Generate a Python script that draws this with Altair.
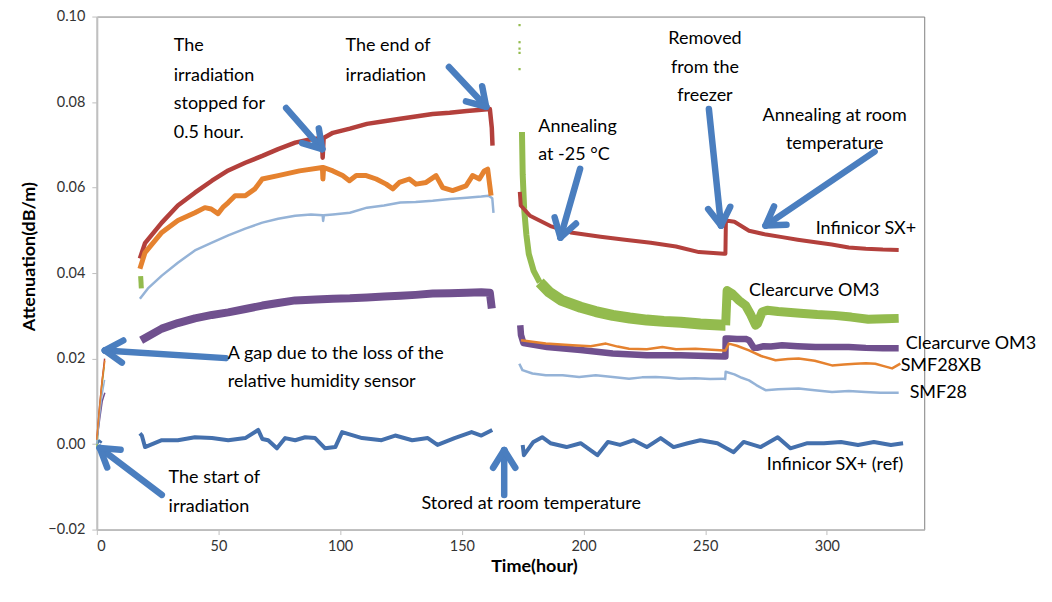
import math
import altair as alt
import pandas as pd

# ---------------- data ----------------
# Initial part of the irradiation (0 - 3 h), before the humidity-sensor gap
RED_INIT_X = [0, 1, 2, 3.2]
RED_INIT_Y = [0.001, 0.008, 0.014, 0.020]
ORG_INIT_X = [0, 1.2, 2.2, 3.3]
ORG_INIT_Y = [0.001, 0.009, 0.015, 0.0195]
GRN_INIT_X = [0, 1, 2, 3.0]
GRN_INIT_Y = [-0.001, 0.007, 0.013, 0.018]
LBL_INIT_X = [0, 1, 2, 3.2]
LBL_INIT_Y = [0.0, 0.006, 0.011, 0.015]
PUR_INIT_X = [0.3, 1.2, 2.2, 3.3]
PUR_INIT_Y = [0.002, 0.006, 0.010, 0.012]
BLU_INIT_X = [0, 1, 2]
BLU_INIT_Y = [0.0, 0.0008, 0.0003]

# Irradiation (17 - 163 h)
RED_IRR_X = [17.7, 19.8, 26.7, 33.3, 40.3, 47.3, 54, 61, 68, 74.5, 81.5, 87, 92.5, 92.8, 93.2, 97, 104, 111, 118, 124.7, 131, 138, 145, 152, 158, 161.5, 162.3, 162.6]
RED_IRR_Y = [0.0434, 0.047, 0.0518, 0.0558, 0.0588, 0.0616, 0.064, 0.0658, 0.0674, 0.069, 0.0705, 0.0712, 0.0716, 0.0670, 0.0716, 0.0728, 0.0738, 0.0749, 0.0755, 0.0761, 0.0766, 0.0772, 0.0775, 0.0779, 0.0782, 0.0784, 0.074, 0.0698]
ORG_IRR_X = [17.7, 19.8, 26.7, 33.3, 40.3, 44.4, 47, 49.8, 52, 54, 56.8, 61, 65, 68, 74.5, 83.3, 92.7, 92.9, 93.2, 97, 101, 103.8, 106.6, 110.7, 114.8, 118.9, 121.6, 124.3, 128.4, 131.2, 135.3, 139.4, 142.1, 146.2, 151.7, 154.4, 157.2, 159.2, 160.6, 162]
ORG_IRR_Y = [0.041, 0.0448, 0.0495, 0.0523, 0.0541, 0.0553, 0.055, 0.0539, 0.0555, 0.0565, 0.0581, 0.0581, 0.0597, 0.062, 0.0628, 0.0639, 0.0647, 0.062, 0.0647, 0.0639, 0.0628, 0.0616, 0.0628, 0.0628, 0.062, 0.0608, 0.0597, 0.0612, 0.062, 0.0608, 0.0612, 0.0628, 0.06, 0.0593, 0.0604, 0.0628, 0.062, 0.0639, 0.0643, 0.0581]
LBL_IRR_X = [17.7, 21, 26.7, 33.3, 40.3, 47.3, 54, 61, 68, 74.5, 81.5, 88, 92.8, 93, 93.3, 97, 104, 111, 118, 124.7, 131, 138, 145, 152, 158, 161, 162.5, 163]
LBL_IRR_Y = [0.034, 0.0364, 0.0394, 0.0424, 0.0453, 0.0471, 0.0488, 0.0504, 0.0518, 0.0527, 0.0534, 0.0537, 0.0535, 0.0522, 0.0535, 0.0537, 0.0541, 0.0553, 0.0558, 0.0565, 0.0566, 0.0569, 0.0573, 0.0576, 0.0579, 0.0581, 0.0575, 0.0541]
PUR_IRR_X = [18.2, 26.7, 33.3, 40.3, 47.3, 54, 61, 68, 74.5, 81.5, 90, 97, 104, 111, 118, 124.7, 131, 138, 145, 152, 158, 161.5, 162.3]
PUR_IRR_Y = [0.0243, 0.027, 0.0283, 0.0294, 0.0302, 0.0308, 0.0316, 0.0324, 0.033, 0.0336, 0.0338, 0.034, 0.0341, 0.0343, 0.0345, 0.0347, 0.0349, 0.0352, 0.0353, 0.0354, 0.0355, 0.0354, 0.0317]
GRN_IRR_X = [18.0, 18.3]
GRN_IRR_Y = [0.0393, 0.0364]
BLU_IRR_X = [17.7, 18.5, 19.8, 26.7, 33.3, 40.3, 47.3, 54, 61, 66.3, 68, 70.4, 74, 77.4, 81.5, 85.6, 89.7, 93.8, 98, 100.8, 109, 117, 122.6, 129.6, 136, 140, 147, 154, 158, 162.5]
BLU_IRR_Y = [0.0025, 0.002, -0.0007, 0.0009, 0.0009, 0.0016, 0.0014, 0.0009, 0.0014, 0.0033, 0.0012, 0.0009, -0.001, 0.0014, 0.0009, 0.0016, 0.0014, -0.001, -0.0007, 0.0028, 0.0014, 0.0009, 0.002, 0.0009, 0.0014, -0.0002, 0.0014, 0.0028, 0.002, 0.0033]

# Annealing at -25 C (174 - 258 h) and at room temperature (258 - 331 h)
RED_ANN_X = [173.8, 174.2, 178, 186.4, 194.7, 207, 217, 227.6, 238, 247.4, 257.7, 258.3, 258.5, 262, 268, 275, 281.6, 288, 295.3, 302, 309, 316, 323, 329.5]
RED_ANN_Y = [0.059, 0.0558, 0.0534, 0.051, 0.0495, 0.0485, 0.0478, 0.0471, 0.0462, 0.0449, 0.0445, 0.0445, 0.0523, 0.052, 0.0499, 0.049, 0.0484, 0.0478, 0.0472, 0.0467, 0.046, 0.0457, 0.0455, 0.0454]
GRN_ANN1_X = [174.7, 175.0, 175.6, 176.5, 177.5, 179.5, 182]
GRN_ANN1_Y = [0.073, 0.063, 0.055, 0.049, 0.0445, 0.0405, 0.0378]
GRN_ANN2_X = [182, 186, 191, 198.8, 205, 212, 219, 226, 233, 240, 248, 257.7, 258.3]
GRN_ANN2_Y = [0.0378, 0.0355, 0.0336, 0.032, 0.031, 0.0301, 0.0295, 0.029, 0.0287, 0.0285, 0.0281, 0.0278, 0.0278]
GRN_RT_X = [258.4, 259, 261, 263.9, 266.6, 268.5, 270.7, 271.5, 273.4, 275.5, 280, 289, 296, 303, 310, 317, 324, 329.5]
GRN_RT_Y = [0.0278, 0.0359, 0.0352, 0.0336, 0.0324, 0.0305, 0.0278, 0.0282, 0.0309, 0.0313, 0.031, 0.0306, 0.0303, 0.0301, 0.0297, 0.0292, 0.0293, 0.0294]
GRN_SPECK_X = [173.7, 173.7, 173.7, 173.7, 173.7]
GRN_SPECK_Y = [0.098, 0.094, 0.0925, 0.0915, 0.0877]
PUR_ANN_X = [174, 174.3, 175.3, 185, 198.8, 212, 226, 240, 257.7, 258.3, 258.4, 259.7, 263, 266.6, 268, 270, 271.3, 274, 277, 281.6, 288, 295.3, 302, 309, 316, 323, 329.5]
PUR_ANN_Y = [0.0278, 0.0255, 0.0236, 0.0227, 0.022, 0.0212, 0.0208, 0.0208, 0.0205, 0.0205, 0.0247, 0.0247, 0.0246, 0.0246, 0.0243, 0.0225, 0.0225, 0.0229, 0.0228, 0.0231, 0.0229, 0.0227, 0.0227, 0.0227, 0.0225, 0.0224, 0.0224]
ORG_ANN_X = [174.3, 184.5, 195.5, 203, 209.2, 214, 218.7, 226, 232.4, 238, 246, 257.7, 258.3, 259.7, 263, 268, 273, 278.9, 284, 288.4, 295, 302.1, 307, 311.7, 316, 319.9, 323, 326.8, 330.2]
ORG_ANN_Y = [0.0243, 0.0235, 0.0231, 0.0229, 0.0235, 0.0228, 0.0223, 0.0222, 0.0227, 0.0222, 0.0223, 0.0219, 0.0219, 0.0235, 0.023, 0.0219, 0.0206, 0.0196, 0.0199, 0.02, 0.0195, 0.0184, 0.0186, 0.0188, 0.0189, 0.0188, 0.0183, 0.0177, 0.0188]
LBL_ANN_X = [173.6, 174.9, 179, 184.5, 191.4, 198.2, 205, 212, 218.7, 224, 229.7, 235, 239.3, 246, 252, 257.7, 258.2, 258.4, 262, 265, 268, 271, 274.8, 280, 288.4, 295, 302.1, 309, 315.8, 322, 329.5]
LBL_ANN_Y = [0.0188, 0.0173, 0.0165, 0.0161, 0.0161, 0.0157, 0.0161, 0.0157, 0.0153, 0.0156, 0.0157, 0.0155, 0.0153, 0.0154, 0.0152, 0.0153, 0.0152, 0.0169, 0.0163, 0.0155, 0.0149, 0.0138, 0.0126, 0.0128, 0.013, 0.0126, 0.0122, 0.0124, 0.0122, 0.012, 0.012]
BLU_ANN_X = [175, 175.5, 179.4, 183, 186.4, 193, 198.8, 205.7, 210, 215, 220.6, 226, 231.7, 237, 242.8, 248, 255, 261.7, 265.8, 272.8, 279.8, 285, 292, 298.8, 305.8, 312.8, 319.3, 326.3, 331.3]
BLU_ANN_Y = [-0.0002, -0.0026, 0.0005, 0.0016, 0.0002, -0.0007, 0.0002, -0.0026, 0.0005, -0.0002, 0.0009, -0.0007, 0.0014, -0.0007, 0.0002, 0.0009, 0.0002, -0.0019, 0.0005, -0.0007, 0.0016, -0.001, 0.0002, 0.0002, 0.0005, -0.0002, 0.0005, -0.0002, 0.0002]

X_TICKS = [0, 50, 100, 150, 200, 250, 300]
Y_TICKS = [-0.02, 0.0, 0.02, 0.04, 0.06, 0.08, 0.10]

# Annotations (data coordinates)
NOTE_LEFT_TEXT = ["The", "irradiation", "stopped for", "0.5 hour.",
                  "The end of", "irradiation",
                  "Annealing", "at -25 °C",
                  "A gap due to the loss of the", "relative humidity sensor",
                  "The start of", "irradiation",
                  "Infinicor SX+", "Clearcurve OM3", "Clearcurve OM3", "SMF28XB", "SMF28",
                  "Infinicor SX+ (ref)"]
NOTE_LEFT_X = [31.6, 31.6, 31.6, 31.6,
               102.2, 102.2,
               181.4, 181.4,
               53.8, 53.8,
               29.5, 29.5,
               295.4, 268.0, 332.4, 330.3, 334.0,
               275.3]
NOTE_LEFT_Y = [0.0931, 0.0861, 0.0796, 0.0728,
               0.0931, 0.0861,
               0.0742, 0.0677,
               0.0210, 0.0145,
               -0.0079, -0.0147,
               0.0502, 0.0359, 0.0233, 0.0182, 0.0119,
               -0.0049]
NOTE_CENTER_TEXT = ["Removed", "from the", "freezer",
                    "Annealing at room", "temperature",
                    "Stored at room temperature"]
NOTE_CENTER_X = [249.9, 249.9, 249.9, 303.2, 303.2, 178.5]
NOTE_CENTER_Y = [0.0947, 0.0880, 0.0814, 0.0768, 0.0702, -0.0140]

ARROW_TAIL_X = [77.8, 144.7, 198.6, 251.5, 319.6, 53.0, 26.7, 167.4]
ARROW_TAIL_Y = [0.0786, 0.0882, 0.0644, 0.0784, 0.0684, 0.0201, -0.0119, -0.0119]
ARROW_TIP_X = [92.6, 160.0, 190.5, 256.5, 274.8, 3.3, 1.2, 167.4]
ARROW_TIP_Y = [0.0690, 0.0789, 0.0483, 0.0511, 0.0511, 0.0219, -0.0009, -0.0014]

# ---------------- styling ----------------
W, H = 829, 514
X_DOM = [0, 340]
Y_DOM = [-0.02, 0.10]
FONT = "Lato"
C_RED = "#b3403c"
C_ORG = "#e5822f"
C_LBL = "#95b3d7"
C_PUR = "#70508e"
C_GRN = "#93bb4e"
C_BLU = "#4470ad"
C_ARROW = "#4a7ebf"

# (series color, segment name, xs, ys, stroke width) in drawing order
SEGMENTS = [
    (C_BLU, "blu_init", BLU_INIT_X, BLU_INIT_Y, 2.5),
    (C_BLU, "blu_irr", BLU_IRR_X, BLU_IRR_Y, 4),
    (C_BLU, "blu_ann", BLU_ANN_X, BLU_ANN_Y, 4),
    (C_GRN, "grn_init", GRN_INIT_X, GRN_INIT_Y, 1.5),
    (C_GRN, "grn_irr", GRN_IRR_X, GRN_IRR_Y, 5),
    (C_GRN, "grn_ann1", GRN_ANN1_X, GRN_ANN1_Y, 6),
    (C_GRN, "grn_ann2", GRN_ANN2_X, GRN_ANN2_Y, 11),
    (C_GRN, "grn_rt", GRN_RT_X, GRN_RT_Y, 9),
    (C_PUR, "pur_init", PUR_INIT_X, PUR_INIT_Y, 1.5),
    (C_PUR, "pur_irr", PUR_IRR_X, PUR_IRR_Y, 8),
    (C_PUR, "pur_ann", PUR_ANN_X, PUR_ANN_Y, 6.5),
    (C_RED, "red_init", RED_INIT_X, RED_INIT_Y, 1.5),
    (C_RED, "red_irr", RED_IRR_X, RED_IRR_Y, 4.5),
    (C_RED, "red_ann", RED_ANN_X, RED_ANN_Y, 4),
    (C_LBL, "lbl_init", LBL_INIT_X, LBL_INIT_Y, 1.5),
    (C_LBL, "lbl_irr", LBL_IRR_X, LBL_IRR_Y, 2.5),
    (C_LBL, "lbl_ann", LBL_ANN_X, LBL_ANN_Y, 2.5),
    (C_ORG, "org_init", ORG_INIT_X, ORG_INIT_Y, 1.5),
    (C_ORG, "org_irr", ORG_IRR_X, ORG_IRR_Y, 5),
    (C_ORG, "org_ann", ORG_ANN_X, ORG_ANN_Y, 2.5),
]

xs = alt.Scale(domain=X_DOM, nice=False, zero=False)
ys = alt.Scale(domain=Y_DOM, nice=False, zero=False)

layers = []
first = True
for color, name, sx, sy, w in SEGMENTS:
    df = pd.DataFrame({"x": sx, "y": sy, "i": list(range(len(sx)))})
    if first:
        xenc = alt.X("x:Q", scale=xs, axis=alt.Axis(
            values=X_TICKS, grid=False, title="Time(hour)",
            titleX=438, titleY=37, titleAlign="center", titleBaseline="middle",
            titleFont=FONT, titleFontSize=18, titleFontWeight="bold", titleColor="#000000",
            labelFont=FONT, labelFontSize=14.5, labelColor="#333333", labelPadding=5,
            domainColor="#bfbfbf", domainWidth=1.5, tickColor="#bfbfbf", tickSize=5))
        yenc = alt.Y("y:Q", scale=ys, axis=alt.Axis(
            values=Y_TICKS, grid=False, format=".2f", title="Attenuation(dB/m)",
            titleX=-67, titleY=240, titleAlign="center", titleBaseline="middle", titleAngle=270,
            titleFont=FONT, titleFontSize=18, titleFontWeight="bold", titleColor="#000000",
            labelFont=FONT, labelFontSize=14.5, labelColor="#333333", labelPadding=7,
            domainColor="#c0c0c0", domainWidth=2, tickColor="#bfbfbf", tickSize=5))
        first = False
    else:
        xenc = alt.X("x:Q", scale=xs)
        yenc = alt.Y("y:Q", scale=ys)
    layers.append(
        alt.Chart(df).mark_line(color=color, strokeWidth=w, strokeJoin="round", strokeCap="butt")
        .encode(x=xenc, y=yenc, order="i:Q")
    )

specks = pd.DataFrame({"x": GRN_SPECK_X, "y": GRN_SPECK_Y})
layers.append(alt.Chart(specks).mark_square(color=C_GRN, size=5, opacity=1)
              .encode(x=alt.X("x:Q", scale=xs), y=alt.Y("y:Q", scale=ys)))

# arrows: shaft + two barbs, barbs computed in pixel space
kx = W / (X_DOM[1] - X_DOM[0])
ky = H / (Y_DOM[1] - Y_DOM[0])
rows = []
BARB = 21.0
ANG = math.radians(32)
for tx, ty, hx, hy in zip(ARROW_TAIL_X, ARROW_TAIL_Y, ARROW_TIP_X, ARROW_TIP_Y):
    rows.append({"x": tx, "y": ty, "x2": hx, "y2": hy})
    dx = (tx - hx) * kx
    dy = -(ty - hy) * ky
    L = math.hypot(dx, dy)
    ux, uy = dx / L, dy / L
    for s in (1, -1):
        c, sn = math.cos(s * ANG), math.sin(s * ANG)
        bx = (ux * c - uy * sn) * BARB
        by = (ux * sn + uy * c) * BARB
        rows.append({"x": hx, "y": hy, "x2": hx + bx / kx, "y2": hy - by / ky})
arrows = pd.DataFrame(rows)
layers.append(alt.Chart(arrows).mark_rule(color=C_ARROW, strokeWidth=6.5, strokeCap="round")
              .encode(x=alt.X("x:Q", scale=xs), y=alt.Y("y:Q", scale=ys), x2="x2:Q", y2="y2:Q"))

notes_l = pd.DataFrame({"t": NOTE_LEFT_TEXT, "x": NOTE_LEFT_X, "y": NOTE_LEFT_Y})
layers.append(alt.Chart(notes_l).mark_text(align="left", baseline="middle", font=FONT,
                                           fontSize=18, color="#000000")
              .encode(x=alt.X("x:Q", scale=xs), y=alt.Y("y:Q", scale=ys), text="t:N"))
notes_c = pd.DataFrame({"t": NOTE_CENTER_TEXT, "x": NOTE_CENTER_X, "y": NOTE_CENTER_Y})
layers.append(alt.Chart(notes_c).mark_text(align="center", baseline="middle", font=FONT,
                                           fontSize=18, color="#000000")
              .encode(x=alt.X("x:Q", scale=xs), y=alt.Y("y:Q", scale=ys), text="t:N"))

chart = alt.layer(*layers).properties(
    width=W, height=H,
    autosize=alt.AutoSizeParams(type="none"),
    padding={"left": 89, "top": 8, "right": 120, "bottom": 70},
    background="#ffffff",
).configure_view(stroke="#808080", strokeWidth=1)

chart.save("out.html", embed_options={"renderer": "svg", "actions": False})
